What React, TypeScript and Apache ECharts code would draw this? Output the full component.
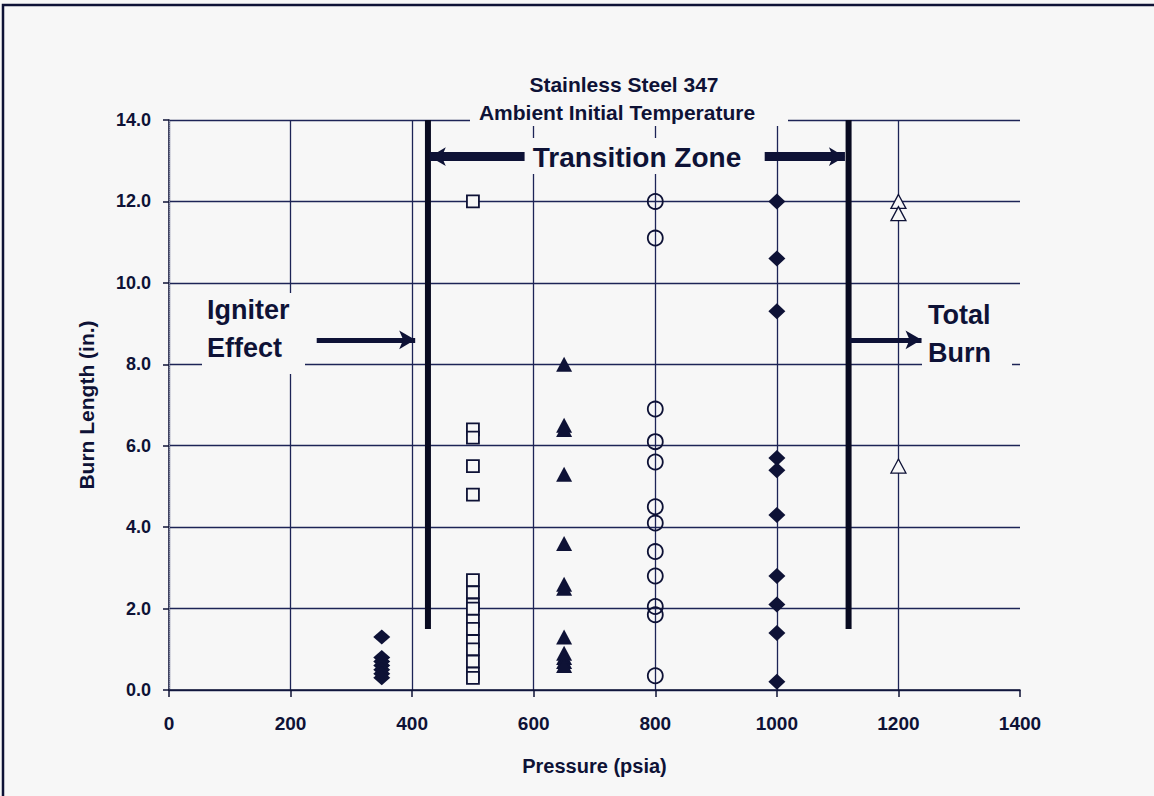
import React, { useEffect, useRef } from "react";
import * as echarts from "echarts";

// ---- data ----
const xTicks = [0, 200, 400, 600, 800, 1000, 1200, 1400];
const yTickStep = 2;
const titleLines = ["Stainless Steel 347", "Ambient Initial Temperature"];

const p350 = 350;
const diamonds350 = [1.3, 0.8, 0.7, 0.6, 0.5, 0.4, 0.3];
const p500 = 500;
const squares500 = [12.0, 6.4, 6.2, 5.5, 4.8, 2.7, 2.4, 2.1, 2.0, 1.7, 1.5, 1.2, 1.0, 0.7, 0.4, 0.3];
const p650 = 650;
const triangles650 = [8.0, 6.5, 6.4, 5.3, 3.6, 2.6, 2.5, 1.3, 0.9, 0.8, 0.7, 0.6];
const p800 = 800;
const circles800 = [12.0, 11.1, 6.9, 6.1, 5.6, 4.5, 4.1, 3.4, 2.8, 2.05, 1.85, 0.35];
const p1000 = 1000;
const diamonds1000 = [12.0, 10.6, 9.3, 5.7, 5.4, 4.3, 2.8, 2.1, 1.4, 0.2];
const p1200 = 1200;
const openTriangles1200 = [12.0, 11.7, 5.5];

// zone boundaries (pressure) and their vertical extent (burn length)
const lowerBoundary = 426;
const upperBoundary = 1118;
const boundaryExtent = [1.5, 14.0];

// arrows: [fromX, toX, y]
const igniterArrow = [243, 405, 8.6];
const totalBurnArrow = [1120, 1238, 8.6];
const transitionLeftArrow = [585, 429, 13.1];
const transitionRightArrow = [980, 1112, 13.1];

const INK = "#0e1236";
const GRID = "#1d2456";
const BG = "#f7f7f7";
const FONT = "'Liberation Sans', Arial, Helvetica, sans-serif";

const pts = (x: number, ys: number[]) => ys.map((y) => [x, y]);

export default function App() {
  const ref = useRef<HTMLDivElement>(null);
  useEffect(() => {
    if (!ref.current) return;
    const chart = echarts.init(ref.current, null, { renderer: "svg" });
    const arrowLine = (a: number[], width: number) => [
      { coord: [a[0], a[2]], lineStyle: { width } },
      { coord: [a[1], a[2]] },
    ];
    const option: any = {
      animation: false,
      backgroundColor: BG,
      grid: { left: 169, right: 134, top: 120, bottom: 106, show: false },
      xAxis: {
        type: "value",
        min: xTicks[0],
        max: xTicks[xTicks.length - 1],
        interval: xTicks[1] - xTicks[0],
        name: "Pressure (psia)",
        nameLocation: "middle",
        nameGap: 66,
        nameTextStyle: { fontFamily: FONT, fontWeight: "bold", fontSize: 20, color: INK },
        axisLine: { show: true, onZero: false, lineStyle: { color: INK, width: 1.5 } },
        axisTick: { show: true, inside: false, length: 7, lineStyle: { color: INK, width: 1.5 } },
        axisLabel: {
          margin: 24,
          fontFamily: FONT,
          fontWeight: "bold",
          fontSize: 19,
          color: INK,
          formatter: (v: number) => String(v),
        },
        splitLine: { show: true, showMaxLine: false, lineStyle: { color: GRID, width: 1.3 } },
      },
      yAxis: [
        {
          type: "value",
          min: 0,
          max: 14,
          interval: yTickStep,
          name: "Burn Length (in.)",
          nameLocation: "middle",
          nameGap: 72,
          nameTextStyle: { fontFamily: FONT, fontWeight: "bold", fontSize: 21, color: INK },
          axisLine: { show: true, onZero: false, lineStyle: { color: INK, width: 1.5 } },
          axisTick: { show: true, inside: false, length: 6, lineStyle: { color: INK, width: 1.5 } },
          axisLabel: {
            margin: 18,
            fontFamily: FONT,
            fontWeight: "bold",
            fontSize: 18,
            color: INK,
            formatter: (v: number) => v.toFixed(1),
          },
          splitLine: { show: true, lineStyle: { color: GRID, width: 1.3 } },
        },
        {
          type: "value",
          position: "right",
          min: 0,
          max: 14,
          interval: yTickStep,
          axisLine: { show: true, lineStyle: { color: "#8a8fa8", width: 1, type: "dotted" } },
          axisTick: { show: false },
          axisLabel: { show: false },
          splitLine: { show: false },
        },
      ],
      graphic: [
        // outer frame
        {
          type: "polyline",
          shape: { points: [[3, 800], [3, 5], [1160, 5]] },
          style: { stroke: INK, lineWidth: 2.5, fill: "none" },
          z: 20,
          silent: true,
        },
        // masks behind annotation texts
        { type: "rect", shape: { x: 470, y: 68, width: 318, height: 58 }, style: { fill: BG }, z: 1, silent: true },
        { type: "rect", shape: { x: 523, y: 138, width: 229, height: 36 }, style: { fill: BG }, z: 1, silent: true },
        { type: "rect", shape: { x: 202, y: 293, width: 103, height: 81 }, style: { fill: BG }, z: 1, silent: true },
        { type: "rect", shape: { x: 922, y: 292, width: 90, height: 80 }, style: { fill: BG }, z: 1, silent: true },
        // texts
        {
          type: "text",
          x: 624,
          y: 84,
          style: { text: titleLines[0], fontFamily: FONT, fontWeight: "bold", fontSize: 21, fill: INK, align: "center", verticalAlign: "middle" },
          z: 10,
        },
        {
          type: "text",
          x: 617,
          y: 112,
          style: { text: titleLines[1], fontFamily: FONT, fontWeight: "bold", fontSize: 21, fill: INK, align: "center", verticalAlign: "middle" },
          z: 10,
        },
        {
          type: "text",
          x: 637,
          y: 157,
          style: { text: "Transition Zone", fontFamily: FONT, fontWeight: "bold", fontSize: 28, fill: INK, align: "center", verticalAlign: "middle" },
          z: 10,
        },
        {
          type: "text",
          x: 207,
          y: 310,
          style: { text: "Igniter", fontFamily: FONT, fontWeight: "bold", fontSize: 27, fill: INK, align: "left", verticalAlign: "middle" },
          z: 10,
        },
        {
          type: "text",
          x: 207,
          y: 348,
          style: { text: "Effect", fontFamily: FONT, fontWeight: "bold", fontSize: 27, fill: INK, align: "left", verticalAlign: "middle" },
          z: 10,
        },
        {
          type: "text",
          x: 928,
          y: 315,
          style: { text: "Total", fontFamily: FONT, fontWeight: "bold", fontSize: 27, fill: INK, align: "left", verticalAlign: "middle" },
          z: 10,
        },
        {
          type: "text",
          x: 928,
          y: 353,
          style: { text: "Burn", fontFamily: FONT, fontWeight: "bold", fontSize: 27, fill: INK, align: "left", verticalAlign: "middle" },
          z: 10,
        },
      ],
      series: [
        {
          type: "scatter",
          data: pts(p350, diamonds350),
          symbol: "diamond",
          symbolSize: [17, 15],
          itemStyle: { color: INK, opacity: 1 },
          z: 5,
        },
        {
          type: "scatter",
          data: pts(p500, squares500),
          symbol: "rect",
          symbolSize: 12,
          itemStyle: { color: BG, borderColor: INK, borderWidth: 1.8, opacity: 1 },
          z: 5,
        },
        {
          type: "scatter",
          data: pts(p650, triangles650),
          symbol: "triangle",
          symbolSize: [16, 15],
          itemStyle: { color: INK, opacity: 1 },
          z: 5,
        },
        {
          type: "scatter",
          data: pts(p800, circles800),
          symbol: "circle",
          symbolSize: 15,
          itemStyle: { color: "transparent", borderColor: INK, borderWidth: 1.8, opacity: 1 },
          z: 5,
        },
        {
          type: "scatter",
          data: pts(p1000, diamonds1000),
          symbol: "diamond",
          symbolSize: [17, 16],
          itemStyle: { color: INK, opacity: 1 },
          z: 5,
        },
        {
          type: "scatter",
          data: pts(p1200, openTriangles1200),
          symbol: "triangle",
          symbolSize: [15, 14],
          itemStyle: { color: BG, borderColor: INK, borderWidth: 1.3, opacity: 1 },
          z: 5,
        },
        {
          type: "line",
          data: boundaryExtent.map((y) => [lowerBoundary, y]),
          symbol: "none",
          lineStyle: { color: "#080a20", width: 6 },
          z: 4,
        },
        {
          type: "line",
          data: boundaryExtent.map((y) => [upperBoundary, y]),
          symbol: "none",
          lineStyle: { color: "#080a20", width: 6 },
          z: 4,
        },
        {
          type: "scatter",
          data: [[0, 0]],
          symbolSize: 0,
          silent: true,
          z: 6,
          markLine: {
            silent: true,
            symbol: ["none", "arrow"],
            symbolSize: [14, 16],
            label: { show: false },
            lineStyle: { color: INK, type: "solid", width: 5, opacity: 1 },
            emphasis: { disabled: true },
            data: [
              arrowLine(igniterArrow, 5),
              arrowLine(totalBurnArrow, 5),
              arrowLine(transitionLeftArrow, 9),
              arrowLine(transitionRightArrow, 9),
            ],
          },
        },
      ],
    };
    chart.setOption(option);
    return () => chart.dispose();
  }, []);
  return (
    <div
      ref={ref}
      style={{ position: "fixed", left: 0, top: 0, width: 1154, height: 796 }}
    />
  );
}
